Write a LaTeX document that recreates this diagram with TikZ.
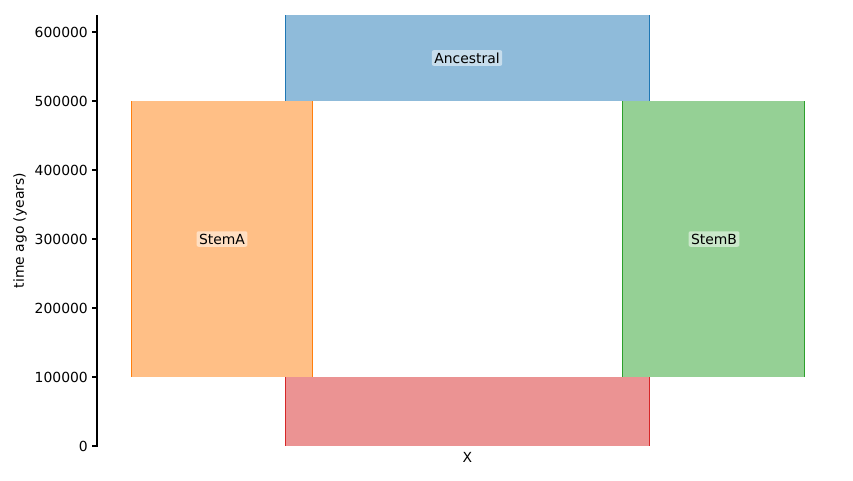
\documentclass[tikz,border=0pt]{standalone}
\usepackage{fontspec}
\setmainfont{DejaVu Sans}
\definecolor{tblue}{HTML}{1F77B4}
\definecolor{torange}{HTML}{FF7F0E}
\definecolor{tgreen}{HTML}{2CA02C}
\definecolor{tred}{HTML}{D62728}
\begin{document}
\begin{tikzpicture}[x=1pt,y=-1pt,
  demelabel/.style={fill=white,fill opacity=0.5,text opacity=1,rounded corners=2pt,inner xsep=2.5pt,inner ysep=2.5pt,font=\fontsize{13.9}{16}\selectfont},
  ticklab/.style={font=\fontsize{13.9}{16}\selectfont,anchor=east,inner sep=0pt},
  edge/.style={line width=1.1pt}]
\useasboundingbox (0,0) rectangle (853,480);
% demes
\fill[tblue!50] (285,15) rectangle (650,101);
\draw[edge,tblue] (285.5,15) -- (285.5,101) (649.5,15) -- (649.5,101);
\fill[torange!50] (131,101) rectangle (313,377);
\draw[edge,torange] (131.5,101) -- (131.5,377) (312.5,101) -- (312.5,377);
\fill[tgreen!50] (622,101) rectangle (805,377);
\draw[edge,tgreen] (622.5,101) -- (622.5,377) (804.5,101) -- (804.5,377);
\fill[tred!50] (285,377) rectangle (650,446);
\draw[edge,tred] (285.5,377) -- (285.5,446) (649.5,377) -- (649.5,446);
% labels
\node[demelabel] (anc) at (467,58) {Ancestral};
\node[demelabel] (stemA) at (222,239) {StemA};
\node[demelabel] (stemB) at (714,239) {StemB};
% axis
\draw[line width=1.1pt] (97,15) -- (97,446.5);
\foreach \v/\yy in {0/446,100000/377,200000/308,300000/239,400000/170,500000/101,600000/32}{
  \draw[line width=1.1pt] (92,\yy) -- (97,\yy);
  \node[ticklab] at (88,\yy) {\v};
}
\node[font=\fontsize{13.9}{16}\selectfont,inner sep=0pt] (xlab) at (467.5,457.5) {X};
\node[font=\fontsize{13.9}{16}\selectfont,rotate=90,inner sep=0pt] (ylab) at (20,230.5) {time ago (years)};
\end{tikzpicture}
\end{document}
